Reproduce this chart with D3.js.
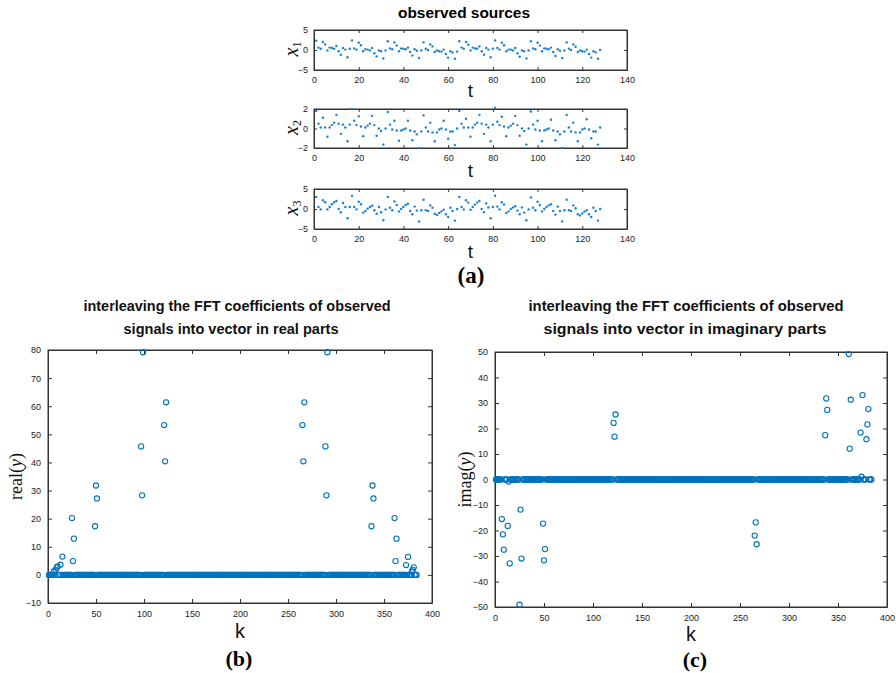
<!DOCTYPE html>
<html>
<head>
<meta charset="utf-8">
<script src="https://cdn.jsdelivr.net/npm/d3@7"></script>
<style>
  body { margin: 0; background: #fff; }
  svg { display: block; }
</style>
</head>
<body>
<div id="chart"></div>
<script>
// observed sources, t = 1..128
const x1 = [
  2.3, 0.6, 0.3, 2.0, 1.4, -0.1, 0.6, 0.5, 0.3, 1.0, -0.3, -1.2, 0.5, 0.1, -1.8, 0.3,
  2.4, 0.4, 0.1, 1.8, 1.2, -0.3, 0.2, 0.1, -0.1, 0.5, -0.8, -1.6, -0.1, -0.3, -2.1, -0.1,
  2.2, 0.4, 0.2, 1.9, 1.1, -0.3, 0.4, 0.3, 0.2, 0.6, -0.5, -1.4, 0.2, -0.2, -2.0, -0.1,
  1.9, 0.3, 0.0, 1.4, 0.9, -0.5, -0.1, -0.3, -0.4, 0.1, -1.0, -1.9, -0.3, -0.6, -2.2, -0.4,
  2.2, 0.6, 0.3, 2.0, 1.3, -0.1, 0.6, 0.4, 0.3, 0.9, -0.3, -1.2, 0.5, 0.1, -1.8, 0.3,
  2.4, 0.5, 0.1, 1.8, 1.2, -0.3, 0.1, 0.1, -0.1, 0.5, -0.8, -1.7, -0.1, -0.3, -2.1, -0.1,
  2.2, 0.4, 0.2, 1.8, 1.1, -0.3, 0.4, 0.3, 0.2, 0.6, -0.5, -1.5, 0.2, -0.2, -2.0, -0.1,
  1.9, 0.3, 0.0, 1.4, 0.8, -0.5, -0.1, -0.3, -0.4, 0.1, -1.0, -1.9, -0.3, -0.6, -2.2, 0.0
];
const x2 = [
  1.8, 0.5, 0.1, 1.1, 0.1, -0.85, 0.1, 0.35, 0.6, 1.4, 0.5, -0.55, 0.4, 0.1, -1.3, 0.4,
  2.0, 0.8, 0.35, 1.25, 0.2, -0.8, 0.1, 0.3, 0.5, 1.3, 0.35, -0.75, 0.0, -0.25, -1.65, 0.0,
  1.7, 0.4, -0.1, 0.8, -0.2, -1.25, -0.2, -0.1, 0.0, 0.8, -0.2, -1.2, -0.3, -0.6, -2.0, -0.3,
  1.35, 0.1, -0.3, 0.6, -0.4, -1.3, -0.4, -0.1, 0.0, 0.8, -0.1, -1.05, -0.3, -0.3, -1.7, 0.0,
  1.8, 0.5, 0.1, 1.0, 0.1, -0.85, 0.1, 0.4, 0.6, 1.4, 0.5, -0.55, 0.4, 0.1, -1.3, 0.4,
  2.1, 0.7, 0.35, 1.2, 0.2, -0.8, 0.1, 0.3, 0.5, 1.3, 0.35, -0.75, 0.0, -0.25, -1.65, 0.0,
  1.75, 0.4, -0.1, 0.8, -0.2, -1.3, -0.2, -0.1, 0.0, 0.9, -0.2, -1.2, -0.3, -0.6, -2.0, -0.3,
  1.4, 0.1, -0.3, 0.6, -0.4, -1.3, -0.4, -0.1, 0.0, 0.95, -0.1, -1.0, -0.3, -0.3, -1.65, 0.1
];
const x3 = [
  3.0, 0.5, -0.1, 2.2, 1.7, -0.1, 0.5, 1.2, 1.7, 2.0, 0.0, -0.8, 1.5, 0.5, -2.3, 0.5,
  3.3, 0.5, -0.1, 1.8, 1.2, -0.9, -0.5, 0.1, 0.5, 0.8, -0.3, -1.2, 0.5, -0.8, -2.8, -0.1,
  3.0, 0.3, -0.3, 1.9, 1.0, -0.6, 0.0, 0.5, 1.0, 1.3, -0.5, -1.3, 0.6, -0.4, -3.1, -0.3,
  2.3, -0.3, -0.5, 0.9, 0.3, -1.2, -1.5, -1.0, -0.6, -0.2, -1.3, -2.0, 0.3, -0.5, -2.9, 0.0,
  3.0, 0.5, -0.1, 2.2, 1.6, -0.2, 0.5, 1.1, 1.6, 2.0, 0.0, -0.8, 1.4, 0.4, -2.3, 0.5,
  3.3, 0.6, -0.1, 1.7, 1.1, -1.0, -0.6, 0.0, 0.4, 0.7, -0.4, -1.3, 0.4, -0.9, -2.8, -0.1,
  2.9, 0.3, -0.3, 1.8, 1.0, -0.6, 0.0, 0.5, 0.9, 1.2, -0.5, -1.4, 0.6, -0.5, -3.1, -0.3,
  2.3, -0.3, -0.5, 0.9, 0.2, -1.3, -1.6, -1.1, -0.6, -0.3, -1.3, -2.0, 0.3, -0.5, -2.9, 0.0
];

// interleaved FFT vector, length 384; entries not listed are 0
const vecLength = 384;
const realIdx = [6, 8, 9, 10, 13, 15, 25, 26, 27, 49, 50, 51, 97, 98, 99, 121, 122, 123,
  265, 266, 267, 289, 290, 291, 337, 338, 339, 361, 362, 363, 373, 375, 379, 380, 381];
const realVal = [1.2, 1.8, 2.6, 3.0, 3.6, 6.5, 20.2, 4.9, 12.9, 17.3, 31.8, 27.2, 45.7, 28.3, 79.2, 53.3, 40.4, 61.4,
  53.3, 40.4, 61.4, 45.7, 28.3, 79.2, 17.3, 31.8, 27.2, 20.2, 4.9, 12.9, 3.5, 6.4, 1.2, 1.8, 2.7];
const imagIdx = [7, 8, 9, 13, 14, 15, 25, 26, 27, 49, 50, 51, 121, 122, 123,
  265, 266, 267, 337, 338, 339, 361, 362, 363, 373, 374, 375, 379, 380, 381];
const imagVal = [-15.5, -21.5, -27.5, -18.2, -0.8, -32.9, -49.1, -11.8, -31.0, -17.3, -31.7, -27.3, 22.2, 16.8, 25.5,
  -22.0, -16.8, -25.4, 17.4, 31.8, 27.3, 49.2, 12.1, 31.3, 18.4, 1.1, 33.1, 15.8, 21.6, 27.6];

const topTicksX = [0, 20, 40, 60, 80, 100, 120, 140];
const fftTicksX = [0, 50, 100, 150, 200, 250, 300, 350, 400];
const realTicksY = [-10, 0, 10, 20, 30, 40, 50, 60, 70, 80];
const imagTicksY = [-50, -40, -30, -20, -10, 0, 10, 20, 30, 40, 50];

const blue = "#0072BD";
const tickFont = "'Liberation Sans', Arial, sans-serif";
const fmt = d3.format("d");

const svg = d3.select("#chart").append("svg")
  .attr("width", 896).attr("height", 673);
svg.append("rect").attr("width", 896).attr("height", 673).attr("fill", "#fff");

// boxed axes, ticks pointing inwards (matlab style)
function drawAxes(g, x, y, xt, yt, tick) {
  const [x0, x1_] = x.range();
  const [y1, y0] = y.range();
  g.append("g").attr("transform", `translate(0,${y1})`)
    .call(d3.axisBottom(x).tickValues(xt).tickFormat(fmt).tickSizeInner(-tick).tickSizeOuter(0).tickPadding(tick + 4));
  g.append("g").attr("transform", `translate(0,${y0})`)
    .call(d3.axisTop(x).tickValues(xt).tickSizeInner(-tick).tickSizeOuter(0).tickFormat(""));
  g.append("g").attr("transform", `translate(${x0},0)`)
    .call(d3.axisLeft(y).tickValues(yt).tickFormat(fmt).tickSizeInner(-tick).tickSizeOuter(0).tickPadding(tick + 3));
  g.append("g").attr("transform", `translate(${x1_},0)`)
    .call(d3.axisRight(y).tickValues(yt).tickSizeInner(-tick).tickSizeOuter(0).tickFormat(""));
  g.selectAll(".domain").attr("stroke", "#333");
  g.selectAll(".tick line").attr("stroke", "#333");
  g.selectAll(".tick text").attr("font-family", tickFont).attr("font-size", 9).attr("fill", "#222");
  g.append("rect").attr("x", x0).attr("y", y0).attr("width", x1_ - x0).attr("height", y1 - y0)
    .attr("fill", "none").attr("stroke", "#333").attr("stroke-width", 1);
}

// ---- (a) observed sources ----
const topX = d3.scaleLinear().domain([0, 140]).range([314, 627]);
const panels = [
  { data: x1, dom: [-5, 5], ticks: [-5, 0, 5], top: 30, bot: 70, sub: "1", tBase: 97 },
  { data: x2, dom: [-2, 2], ticks: [-2, 0, 2], top: 109, bot: 148, sub: "2", tBase: 177 },
  { data: x3, dom: [-5, 5], ticks: [-5, 0, 5], top: 189, bot: 229, sub: "3", tBase: 258 }
];

svg.append("text").attr("x", 464).attr("y", 18).attr("text-anchor", "middle")
  .attr("font-family", tickFont).attr("font-weight", "bold").attr("font-size", 14)
  .attr("textLength", 132).attr("lengthAdjust", "spacingAndGlyphs")
  .text("observed sources");

panels.forEach((p) => {
  const y = d3.scaleLinear().domain(p.dom).range([p.bot, p.top]);
  const g = svg.append("g");
  drawAxes(g, topX, y, topTicksX, p.ticks, 3);
  g.append("g").selectAll("circle")
    .data(p.data)
    .join("circle")
    .attr("cx", (d, i) => topX(i + 1))
    .attr("cy", (d) => y(d))
    .attr("r", 1.2)
    .attr("fill", "#1a7fd0");
  g.append("text").attr("x", topX(70)).attr("y", p.tBase).attr("text-anchor", "middle")
    .attr("font-family", tickFont).attr("font-size", 19).attr("fill", "#111").text("t");
  const lab = g.append("text")
    .attr("transform", `translate(298,${(p.top + p.bot) / 2 - 1}) rotate(-90)`)
    .attr("text-anchor", "middle")
    .attr("font-family", "'Liberation Serif', 'DejaVu Serif', serif").attr("fill", "#111");
  lab.append("tspan").attr("font-style", "italic").attr("font-size", 20).text("x");
  lab.append("tspan").attr("font-size", 12).attr("dy", 3).text(p.sub);
});

svg.append("text").attr("x", 471).attr("y", 283).attr("text-anchor", "middle")
  .attr("font-family", "'Liberation Serif', 'Times New Roman', serif")
  .attr("font-weight", "bold").attr("font-size", 23).text("(a)");

// ---- (b) & (c) interleaved FFT coefficients ----
function fftPanel({ idx, val, xr, yr, dom, yt, title, titleX, titleW, yName, yNameX, kBase, tag, tagX, tagBase }) {
  const x = d3.scaleLinear().domain([0, 400]).range(xr);
  const y = d3.scaleLinear().domain(dom).range(yr);
  const g = svg.append("g");
  title.forEach((t, i) => {
    g.append("text").attr("x", titleX[i]).attr("y", 311 + i * 23).attr("text-anchor", "middle")
      .attr("font-family", tickFont).attr("font-weight", "bold").attr("font-size", 14)
      .attr("textLength", titleW[i]).attr("lengthAdjust", "spacingAndGlyphs")
      .attr("fill", "#111").text(t);
  });
  drawAxes(g, x, y, fftTicksX, yt, 4);
  const lookup = new Map(idx.map((k, i) => [k, val[i]]));
  const pts = d3.range(1, vecLength + 1).map((k) => ({ k, v: lookup.get(k) || 0 }));
  g.append("g").selectAll("circle")
    .data(pts.filter((d) => d.v === 0).concat(pts.filter((d) => d.v !== 0)))
    .join("circle")
    .attr("cx", (d) => x(d.k))
    .attr("cy", (d) => y(d.v))
    .attr("r", 2.6)
    .attr("fill", "none")
    .attr("stroke", blue)
    .attr("stroke-width", 1.1);
  g.append("text").attr("x", (xr[0] + xr[1]) / 2).attr("y", kBase).attr("text-anchor", "middle")
    .attr("font-family", tickFont).attr("font-size", 20).attr("fill", "#111").text("k");
  const lab = g.append("text")
    .attr("transform", `translate(${yNameX},${(yr[0] + yr[1]) / 2}) rotate(-90)`)
    .attr("text-anchor", "middle")
    .attr("font-family", "'Liberation Serif', 'DejaVu Serif', serif").attr("font-size", 18).attr("fill", "#111");
  lab.append("tspan").text(yName + "(");
  lab.append("tspan").attr("font-style", "italic").text("y");
  lab.append("tspan").text(")");
  g.append("text").attr("x", tagX).attr("y", tagBase).attr("text-anchor", "middle")
    .attr("font-family", "'Liberation Serif', 'Times New Roman', serif")
    .attr("font-weight", "bold").attr("font-size", 22).text(tag);
}

fftPanel({
  idx: realIdx, val: realVal, xr: [48, 432], yr: [603, 350], dom: [-10, 80], yt: realTicksY,
  title: ["interleaving the FFT coefficients of observed", "signals into vector in real parts"],
  titleX: [237, 231], titleW: [307, 215],
  yName: "real", yNameX: 22, kBase: 638, tag: "(b)", tagX: 239, tagBase: 666
});
fftPanel({
  idx: imagIdx, val: imagVal, xr: [495, 887], yr: [607, 352], dom: [-50, 50], yt: imagTicksY,
  title: ["interleaving the FFT coefficients of observed", "signals into vector in imaginary parts"],
  titleX: [686, 685], titleW: [315, 283],
  yName: "imag", yNameX: 471, kBase: 641, tag: "(c)", tagX: 695, tagBase: 667
});
</script>
</body>
</html>
